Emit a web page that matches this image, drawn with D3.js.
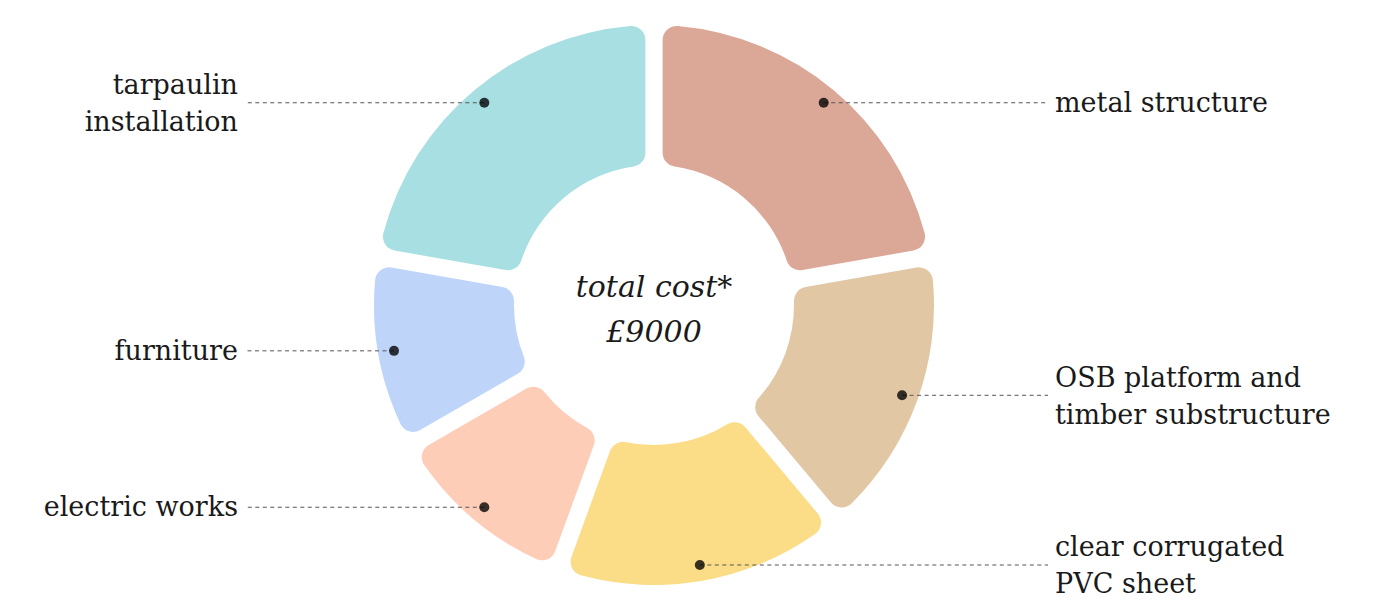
<!DOCTYPE html>
<html>
<head>
<meta charset="utf-8">
<script src="https://cdn.jsdelivr.net/npm/d3@7"></script>
<style>
  html, body { margin: 0; padding: 0; background: #ffffff; }
  svg { display: block; }
</style>
</head>
<body>
<svg id="chart" width="1394" height="605"></svg>
<script>
// ---- data ----
const categories = [
  "metal structure",
  "OSB platform and timber substructure",
  "clear corrugated PVC sheet",
  "electric works",
  "furniture",
  "tarpaulin installation"
];
const labelLines = [
  ["metal structure"],
  ["OSB platform and", "timber substructure"],
  ["clear corrugated", "PVC sheet"],
  ["electric works"],
  ["furniture"],
  ["tarpaulin", "installation"]
];
const values = [2000, 1500, 1500, 1000, 1000, 2000];
const colors = ["#DBA898", "#E1C7A4", "#FBDC87", "#FDCDB8", "#BED5F9", "#A8DFE3"];
const centerLines = ["total cost*", "£9000"];

// ---- layout ----
const W = 1394, H = 605;
const cx = 654, cy = 305;
const outerR = 280, innerR = 140;
const dotR = 264;
const rightX = 1055, leftX = 238;

const svg = d3.select("#chart");
const g = svg.append("g").attr("transform", `translate(${cx},${cy})`);

const pie = d3.pie().sort(null).value(d => d.value);
const data = categories.map((c, i) => ({ name: c, lines: labelLines[i], value: values[i], color: colors[i] }));
const arcs = pie(data);

const arc = d3.arc()
  .innerRadius(innerR)
  .outerRadius(outerR)
  .padAngle(0.055)
  .cornerRadius(14);

const dotArc = d3.arc().innerRadius(dotR).outerRadius(dotR);

g.selectAll("path.slice")
  .data(arcs)
  .join("path")
  .attr("class", "slice")
  .attr("d", arc)
  .attr("fill", d => d.data.color);

// leader lines + labels
const fontFamily = "'DejaVu Serif', serif";
const fontSize = 27;
const lineH = 37;

arcs.forEach(d => {
  const [px, py] = dotArc.centroid(d);
  const mid = (d.startAngle + d.endAngle) / 2;
  const right = mid < Math.PI;
  const x2 = right ? rightX - 7 - cx : leftX + 7 - cx;

  g.append("line")
    .attr("x1", px).attr("y1", py)
    .attr("x2", x2).attr("y2", py)
    .attr("stroke", "#555")
    .attr("stroke-width", 1)
    .attr("stroke-dasharray", "4,3.5");

  g.append("circle")
    .attr("cx", px).attr("cy", py)
    .attr("r", 5)
    .attr("fill", "#000")
    .attr("fill-opacity", 0.78);

  const n = d.data.lines.length;
  const off = n > 1 ? 10 : 9;
  const t = g.append("text")
    .attr("font-family", fontFamily)
    .attr("font-size", fontSize)
    .attr("fill", "#1a1a1a")
    .attr("text-anchor", right ? "start" : "end");
  d.data.lines.forEach((ln, i) => {
    t.append("tspan")
      .attr("x", right ? rightX - cx : leftX - cx)
      .attr("y", py + (i - (n - 1) / 2) * lineH + off)
      .text(ln);
  });
});

// center text
const ct = g.append("text")
  .attr("font-family", fontFamily)
  .attr("font-style", "italic")
  .attr("font-size", 30)
  .attr("fill", "#1a1a1a")
  .attr("text-anchor", "middle");
centerLines.forEach((ln, i) => {
  ct.append("tspan")
    .attr("x", 0)
    .attr("y", -8 + i * 45)
    .text(ln);
});
</script>
</body>
</html>
